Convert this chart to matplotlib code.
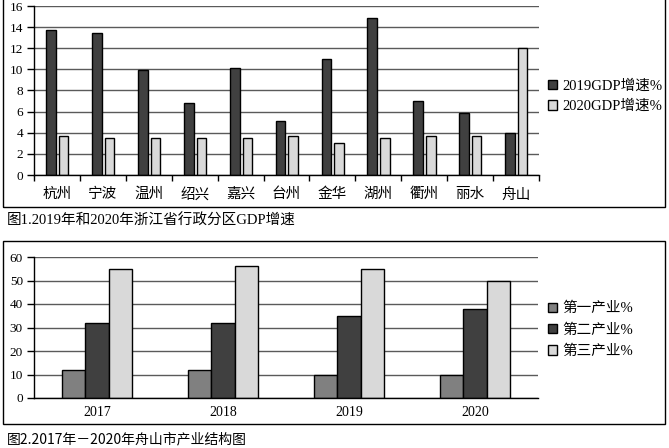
import matplotlib
matplotlib.use("Agg")
import matplotlib.pyplot as plt
from matplotlib.patches import Rectangle
import numpy as np

# chart 1: GDP growth by city
cities = ["杭州", "宁波", "温州", "绍兴", "嘉兴", "台州", "金华", "湖州", "衢州", "丽水", "舟山"]
gdp_2019 = [13.7, 13.4, 9.95, 6.8, 10.1, 5.1, 11.0, 14.9, 7.0, 5.9, 4.0]
gdp_2020 = [3.7, 3.5, 3.5, 3.5, 3.5, 3.7, 3.0, 3.5, 3.7, 3.7, 12.0]
gdp_ticks = [0, 2, 4, 6, 8, 10, 12, 14, 16]

# chart 2: Zhoushan industry structure
years = ["2017", "2018", "2019", "2020"]
primary = [12, 12, 10, 10]
secondary = [32, 32, 35, 38]
tertiary = [55, 56, 55, 50]
share_ticks = [0, 10, 20, 30, 40, 50, 60]

SERIF = ["Liberation Serif", "Noto Sans CJK SC"]
SANS = ["Noto Sans CJK SC", "DejaVu Sans"]
DARK = "#404040"
MID = "#808080"
LIGHT = "#d9d9d9"
GRID = "#5a5a5a"

W, H = 669, 448
plt.rcParams['font.family'] = SERIF


def px_box(x0, y0, x1, y1):
    """pixel box (top-left origin) -> figure fraction [l, b, w, h]"""
    return [x0 / W, 1 - y1 / H, (x1 - x0) / W, (y1 - y0) / H]


def style_axes(ax, ticks):
    ax.set_ylim(ticks[0], ticks[-1])
    ax.set_yticks(ticks)
    ax.set_axisbelow(True)
    ax.yaxis.grid(True, color=GRID, linewidth=1.0)
    for side in ["top", "right"]:
        ax.spines[side].set_visible(False)
    ax.spines["left"].set_linewidth(1.0)
    ax.spines["bottom"].set_linewidth(1.0)
    ax.tick_params(axis="y", length=5, width=1.0, pad=3, labelsize=9.5)


fig = plt.figure(figsize=(6.69, 4.48), dpi=100)

# outer frames
for box in [(3, -5, 665, 207), (3, 241, 665, 424)]:
    l, b, w, h = px_box(*box)
    fig.add_artist(Rectangle((l, b), w, h, transform=fig.transFigure,
                             fill=False, edgecolor="black", linewidth=1.0))

# ---- chart 1
ax1 = fig.add_axes(px_box(34, 6, 539, 175))
x = np.arange(len(cities))
ax1.bar(x - 0.13, gdp_2019, 0.215, color=DARK, edgecolor="black",
        linewidth=1.0, label="2019GDP增速%")
ax1.bar(x + 0.145, gdp_2020, 0.205, color=LIGHT, edgecolor="black",
        linewidth=1.0, label="2020GDP增速%")
style_axes(ax1, gdp_ticks)
ax1.set_xlim(-0.5, len(cities) - 0.5)
ax1.set_xticks(x)
ax1.set_xticklabels(cities, fontsize=10.5)
ax1.set_xticks(np.arange(len(cities) + 1) - 0.5, minor=True)
ax1.tick_params(axis="x", which="major", length=0, pad=9)
ax1.tick_params(axis="x", which="minor", length=4, width=1.0)
ax1.legend(loc="center left", bbox_to_anchor=(548 / W, 1 - 96 / H),
           bbox_transform=fig.transFigure, frameon=False, fontsize=10.5,
           handlelength=0.6, handleheight=0.6, handletextpad=0.4,
           labelspacing=0.5, borderpad=0, borderaxespad=0)
fig.text(7 / W, 1 - 221 / H, "图1.2019年和2020年浙江省行政分区GDP增速",
         fontsize=10.5, va="center", ha="left")

# ---- chart 2
ax2 = fig.add_axes(px_box(34, 257, 538, 398))
x2 = np.arange(len(years))
bw = 0.185
ax2.bar(x2 - bw, primary, bw, color=MID, edgecolor="black", linewidth=1.0,
        label="第一产业%")
ax2.bar(x2, secondary, bw, color=DARK, edgecolor="black", linewidth=1.0,
        label="第二产业%")
ax2.bar(x2 + bw, tertiary, bw, color=LIGHT, edgecolor="black", linewidth=1.0,
        label="第三产业%")
style_axes(ax2, share_ticks)
ax2.set_xlim(-0.5, len(years) - 0.5)
ax2.set_xticks(x2)
ax2.set_xticklabels(years, fontsize=10)
ax2.tick_params(axis="x", length=0, pad=6)
ax2.legend(loc="center left", bbox_to_anchor=(548 / W, 1 - 330 / H),
           bbox_transform=fig.transFigure, frameon=False, fontsize=10.5,
           handlelength=0.6, handleheight=0.6, handletextpad=0.4,
           labelspacing=0.55, borderpad=0, borderaxespad=0)
fig.text(7 / W, 1 - 439 / H, "图2.2017年－2020年舟山市产业结构图",
         fontsize=10, va="center", ha="left", family=SANS)

fig.savefig("out.png", dpi=100)
